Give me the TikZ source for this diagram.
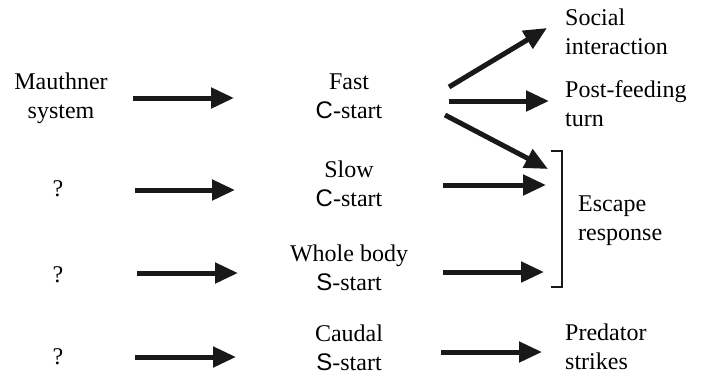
\documentclass[tikz,border=0pt]{standalone}
\usepackage{fontspec}
\setmainfont{Liberation Serif}
\newfontfamily\sansf{Liberation Sans}
\usetikzlibrary{arrows.meta,calc}
\begin{document}
\begin{tikzpicture}[x=1pt,y=-1pt,
  lbl/.style={inner sep=0pt,font=\fontsize{24}{29}\selectfont},
  mid/.style={lbl,align=center,anchor=center},
  rgt/.style={lbl,align=left,anchor=west},
  arr/.style={line width=5pt,color=black!90,-{Triangle[length=23pt,width=20pt]}},
  brk/.style={line width=1.6pt,color=black!90}]
\useasboundingbox (0,0) rectangle (701,376);
% left
\node[mid] (mauth) at (61,97.7) {\strut Mauthner\\\strut system};
\node[mid] (q1) at (58,191) {\strut ?};
\node[mid] (q2) at (58,277) {\strut ?};
\node[mid] (q3) at (58,359) {\strut ?};
% middle
\node[mid] (fast) at (349,97.7) {\strut Fast\\\strut {\sansf C}-start};
\node[mid] (slow) at (349,186.2) {\strut Slow\\\strut {\sansf C}-start};
\node[mid] (whole) at (349,269.7) {\strut Whole body\\\strut {\sansf S}-start};
\node[mid] (caudal) at (349,349.7) {\strut Caudal\\\strut {\sansf S}-start};
% right
\node[rgt] (social) at (565,34.2) {\strut Social\\\strut interaction};
\node[rgt] (post) at (565,106.2) {\strut Post-feeding\\\strut turn};
\node[rgt] (escape) at (578,220.2) {\strut Escape\\\strut response};
\node[rgt] (pred) at (565,345.3) {\strut Predator\\strikes};
% bracket
\draw[brk] ($(escape.west)+(-27,-69.2)$) coordinate (bt) -- ++(11,0) |- ($(escape.west)+(-27,66.8)$) coordinate (bb);
% arrows
\draw[arr] ($(mauth.center)+(72,0.3)$) -- ($(fast.center)+(-115,0.3)$);
\draw[arr] ($(q1.center)+(77,-1)$) -- ($(slow.center)+(-114,3.8)$);
\draw[arr] ($(q2.center)+(79,-4)$) -- ($(whole.center)+(-111,3.3)$);
\draw[arr] ($(q3.center)+(77,-2)$) -- ($(caudal.center)+(-113,7.3)$);
\draw[arr] ($(fast.center)+(100,-10.7)$) -- ($(social.west)+(-18,-6.2)$);
\draw[arr] ($(fast.center)+(100,3.3)$) -- ($(post.west)+(-16,-5.2)$);
\draw[arr] ($(fast.center)+(96,17.3)$) -- ($(escape.west)+(-30,-51.2)$);
\draw[arr] ($(slow.center)+(94,-1.2)$) -- ($(escape.west)+(-32,-35.2)$);
\draw[arr] ($(whole.center)+(94,2.3)$) -- ($(escape.west)+(-34,51.8)$);
\draw[arr] ($(caudal.center)+(92,2.3)$) -- ($(pred.west)+(-23,6.7)$);
\end{tikzpicture}
\end{document}
